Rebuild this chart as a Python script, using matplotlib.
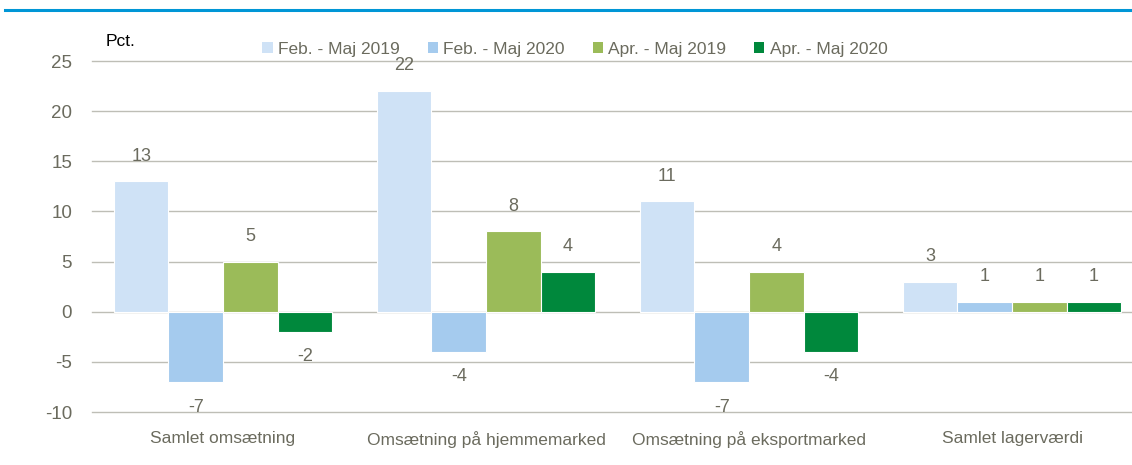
import matplotlib
matplotlib.use("Agg")
import matplotlib.pyplot as plt
from matplotlib import font_manager
import numpy as np

categories = ["Samlet omsætning", "Omsætning på hjemmemarked",
              "Omsætning på eksportmarked", "Samlet lagerværdi"]
series_names = ["Feb. - Maj 2019", "Feb. - Maj 2020", "Apr. - Maj 2019", "Apr. - Maj 2020"]
feb_2019 = [13, 22, 11, 3]
feb_2020 = [-7, -4, -7, 1]
apr_2019 = [5, 8, 4, 1]
apr_2020 = [-2, 4, -4, 1]
yticks = [-10, -5, 0, 5, 10, 15, 20, 25]

colors = ["#CFE2F6", "#A5CBEE", "#9BBB59", "#00883C"]
txt = "#6B6B5E"

names = {f.name for f in font_manager.fontManager.ttflist}
fam = "Liberation Sans Narrow" if "Liberation Sans Narrow" in names else "Liberation Sans"
plt.rcParams['font.family'] = [fam, 'DejaVu Sans']

fig = plt.figure(figsize=(11.32, 4.65), dpi=100)
ax = fig.add_axes([91.5/1132, 53/465, 1052/1132, 351/465])

series = [feb_2019, feb_2020, apr_2019, apr_2020]
x = np.arange(len(categories))
w = 0.2075
for i, (vals, c, nm) in enumerate(zip(series, colors, series_names)):
    pos = x + (i - 1.5) * w
    ax.bar(pos, vals, width=w, color=c, edgecolor="white", linewidth=0.8, label=nm, zorder=3)
    for p, v in zip(pos, vals):
        if v >= 0:
            ax.annotate(str(v), (p, v), xytext=(0, 12), textcoords="offset points",
                        ha="center", va="bottom", fontsize=13, color=txt)
        else:
            ax.annotate(str(v), (p, v), xytext=(0, -12), textcoords="offset points",
                        ha="center", va="top", fontsize=13, color=txt)

ax.set_xlim(-0.5, 3.5)
ax.set_ylim(-10, 25)
ax.set_yticks(yticks)
ax.set_yticklabels([str(t) for t in yticks], fontsize=13.5, color=txt)
ax.set_xticks(x)
ax.set_xticklabels(categories, fontsize=12.5, color=txt)
ax.tick_params(axis="both", length=0)
ax.tick_params(axis="y", pad=14)
ax.tick_params(axis="x", pad=14)
for t in yticks:
    ax.axhline(t, color="#BEBEB6", linewidth=1.0, zorder=0, clip_on=False)
for s in ax.spines.values():
    s.set_visible(False)

leg = ax.legend(loc="upper left", bbox_to_anchor=(164/1052, 1.075), ncol=4, frameon=False,
                fontsize=12.5, handlelength=0.6, handleheight=0.6, handletextpad=0.3,
                columnspacing=1.6, borderaxespad=0)
for t in leg.get_texts():
    t.set_color(txt)
for h in leg.legend_handles:
    h.set_edgecolor("none")

fig.text(106/1132, 1 - 42/465, "Pct.", fontsize=12.5, color="black", va="center", ha="left")
fig.add_artist(plt.Line2D([5/1132, 1.0], [1 - 10/465, 1 - 10/465], color="#0096D6", linewidth=2.2))

fig.savefig("out.png", dpi=100)
